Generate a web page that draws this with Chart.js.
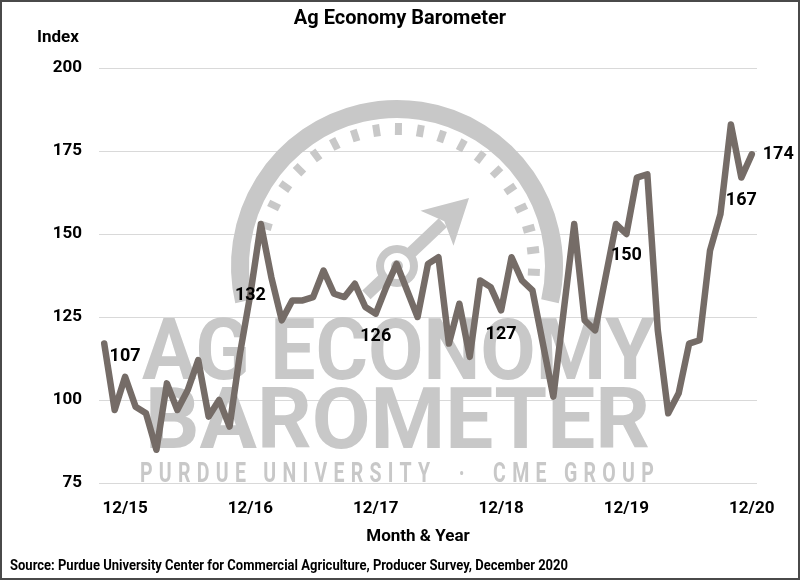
<!DOCTYPE html>
<html>
<head>
<meta charset="utf-8">
<title>Ag Economy Barometer</title>
<script src="https://cdn.jsdelivr.net/npm/chart.js@4.4.1/dist/chart.umd.min.js"></script>
<style>
  html, body { margin: 0; padding: 0; background: #fff; }
  #wrap { width: 800px; height: 580px; }
</style>
</head>
<body>
<div id="wrap"><canvas id="chart" width="800" height="580"></canvas></div>
<script>
// monthly index, Oct 2015 .. Dec 2020
var indexValues = [
  117, 97, 107,
  98, 96, 85, 105, 97, 103, 112, 95, 100, 92, 114, 132,
  153, 137, 124, 130, 130, 131, 139, 132, 131, 135, 128, 126,
  134, 141, 133, 125, 141, 143, 117, 129, 113, 136, 134, 127,
  143, 136, 133, 117, 101, 127, 153, 124, 121, 137, 153, 150,
  167, 168, 121, 96, 102, 117, 118, 145, 156, 183, 167, 174
];
var tickLabels = ['12/15', '12/16', '12/17', '12/18', '12/19', '12/20'];
var labelledMonths = ['12/15', '12/16', '12/17', '12/18', '12/19', '11/20', '12/20'];
var yTicks = { min: 75, max: 200, step: 25 };

// month keys "m/yy" starting Oct 2015
var monthLabels = [];
(function () {
  var m = 10, y = 15;
  for (var i = 0; i < indexValues.length; i++) {
    monthLabels.push(m + '/' + y);
    m++;
    if (m > 12) { m = 1; y++; }
  }
})();

var FONT = 'Roboto, "Open Sans", "Liberation Sans", sans-serif';
var LINE_COLOR = '#756c67';
var MARK_COLOR = '#c8c8c8';

// label placement relative to its point
var labelOffsets = {
  '12/15': [0, -20, 'center'],
  '12/16': [0, 2, 'center'],
  '12/17': [0, 23, 'center'],
  '12/18': [0, 24, 'center'],
  '12/19': [0, 21, 'center'],
  '11/20': [0, 23, 'center'],
  '12/20': [11, 0, 'left']
};

function fitText(ctx, text, x, y, width) {
  var w = ctx.measureText(text).width;
  ctx.save();
  ctx.translate(x, y);
  ctx.scale(width / w, 1);
  ctx.fillText(text, 0, 0);
  ctx.restore();
}

function drawWatermark(ctx) {
  var cx = 397, cy = 266;
  ctx.save();
  ctx.strokeStyle = MARK_COLOR;
  ctx.fillStyle = MARK_COLOR;

  // outer arc
  ctx.lineWidth = 18;
  ctx.beginPath();
  ctx.arc(cx, cy, 157, 167 * Math.PI / 180, 13 * Math.PI / 180, false);
  ctx.stroke();

  // dial dashes
  for (var i = 0; i < 19; i++) {
    var a = (197 + i * 9.2) * Math.PI / 180;
    ctx.save();
    ctx.translate(cx + 137 * Math.cos(a), cy + 137 * Math.sin(a));
    ctx.rotate(a);
    ctx.fillRect(-6, -3.5, 12, 7);
    ctx.restore();
  }

  // needle
  var tipX = 469, tipY = 198;
  var ang = Math.atan2(tipY - cy, tipX - cx);
  var len = Math.hypot(tipX - cx, tipY - cy);
  ctx.save();
  ctx.translate(cx, cy);
  ctx.rotate(ang);
  ctx.fillRect(-42, -6, len - 36 + 42, 12);
  ctx.beginPath();
  ctx.moveTo(len, 0);
  ctx.lineTo(len - 44, -24);
  ctx.lineTo(len - 34, 0);
  ctx.lineTo(len - 44, 24);
  ctx.closePath();
  ctx.fill();
  ctx.restore();

  // hub
  ctx.fillStyle = '#ffffff';
  ctx.beginPath();
  ctx.arc(cx, cy, 17, 0, Math.PI * 2);
  ctx.fill();
  ctx.fillStyle = MARK_COLOR;
  ctx.lineWidth = 8;
  ctx.beginPath();
  ctx.arc(cx, cy, 17, 0, Math.PI * 2);
  ctx.stroke();
  ctx.beginPath();
  ctx.arc(cx, cy, 6, 0, Math.PI * 2);
  ctx.fill();

  // lettering
  ctx.textAlign = 'left';
  ctx.textBaseline = 'alphabetic';
  ctx.font = 'bold 86px ' + FONT;
  fitText(ctx, 'AG ECONOMY', 142, 379, 513);
  fitText(ctx, 'BAROMETER', 145, 448, 505);
  ctx.font = 'bold 28px ' + FONT;
  try { ctx.letterSpacing = '9px'; } catch (e) {}
  fitText(ctx, 'PURDUE UNIVERSITY  \u00B7  CME GROUP', 140, 482, 520);
  try { ctx.letterSpacing = '0px'; } catch (e) {}
  ctx.restore();
}

var decorPlugin = {
  id: 'decor',
  beforeDatasetsDraw: function (chart) {
    drawWatermark(chart.ctx);
  },
  afterDatasetsDraw: function (chart) {
    var ctx = chart.ctx;
    var meta = chart.getDatasetMeta(0);
    ctx.save();
    ctx.fillStyle = '#000';
    ctx.font = 'bold 18px ' + FONT;
    ctx.textBaseline = 'middle';
    labelledMonths.forEach(function (key) {
      var i = monthLabels.indexOf(key);
      if (i < 0) return;
      var pt = meta.data[i];
      var off = labelOffsets[key];
      ctx.textAlign = off[2];
      ctx.fillText(String(indexValues[i]), pt.x + off[0], pt.y + off[1]);
    });
    ctx.restore();
  },
  afterDraw: function (chart) {
    var ctx = chart.ctx;
    ctx.save();
    ctx.fillStyle = '#000';
    ctx.textBaseline = 'middle';

    ctx.textAlign = 'center';
    ctx.font = 'bold 20px ' + FONT;
    ctx.fillText('Ag Economy Barometer', 400, 19, 230);

    ctx.font = 'bold 17px ' + FONT;
    ctx.fillText('Index', 58, 38);
    ctx.fillText('Month & Year', 418, 537);

    ctx.textAlign = 'left';
    ctx.font = 'bold 14px ' + FONT;
    ctx.fillText('Source: Purdue University Center for Commercial Agriculture, Producer Survey, December 2020', 10, 566, 558);

    ctx.strokeStyle = '#4a4a4a';
    ctx.lineWidth = 2;
    ctx.strokeRect(1, 1, 798, 578);
    ctx.restore();
  }
};

new Chart(document.getElementById('chart').getContext('2d'), {
  type: 'line',
  data: {
    labels: monthLabels,
    datasets: [{
      label: 'Ag Economy Barometer',
      data: indexValues,
      borderColor: LINE_COLOR,
      backgroundColor: LINE_COLOR,
      borderWidth: 6.5,
      borderJoinStyle: 'round',
      borderCapStyle: 'round',
      pointRadius: 0,
      tension: 0,
      fill: false
    }]
  },
  options: {
    responsive: false,
    animation: false,
    devicePixelRatio: 1,
    layout: { padding: { left: 0, right: 43, top: 68, bottom: 0 } },
    plugins: {
      legend: { display: false },
      tooltip: { enabled: false },
      title: { display: false }
    },
    scales: {
      x: {
        type: 'category',
        offset: true,
        grid: { display: false },
        border: { display: false },
        afterFit: function (scale) { scale.height = 97; },
        ticks: {
          autoSkip: false,
          maxRotation: 0,
          minRotation: 0,
          padding: 8,
          color: '#000',
          font: { family: FONT, size: 17, weight: 'bold' },
          callback: function (value, index) {
            var key = monthLabels[index];
            return tickLabels.indexOf(key) >= 0 ? key : '';
          }
        }
      },
      y: {
        min: yTicks.min,
        max: yTicks.max,
        grid: { color: '#d9d9d9', lineWidth: 1, drawTicks: false },
        border: { display: false },
        afterFit: function (scale) { scale.width = 99; },
        ticks: {
          stepSize: yTicks.step,
          padding: 17,
          color: '#000',
          font: { family: FONT, size: 17, weight: 'bold' }
        }
      }
    }
  },
  plugins: [decorPlugin]
});
</script>
</body>
</html>
